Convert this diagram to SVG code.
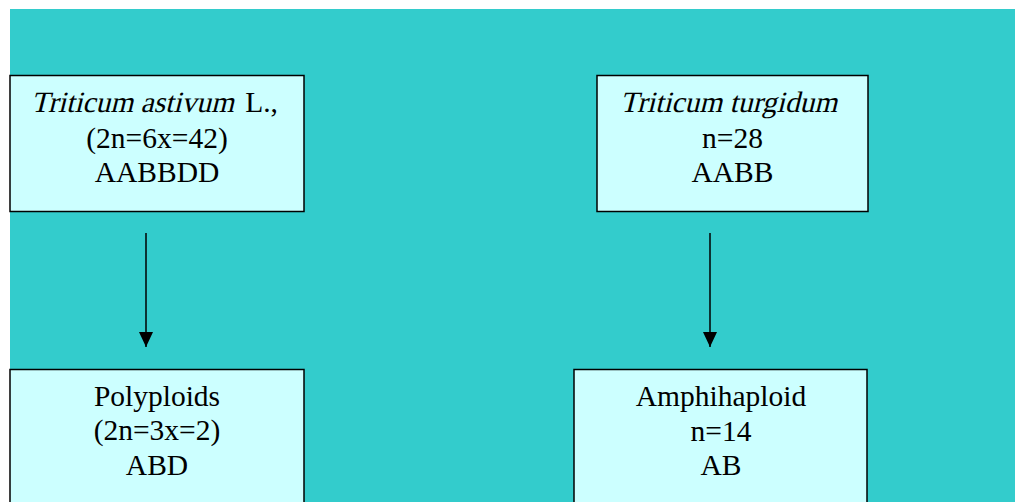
<svg xmlns="http://www.w3.org/2000/svg" width="1015" height="502" viewBox="0 0 1015 502">
<style>
.box{fill:#CCFFFF;stroke:#000;stroke-width:1.5}
.t{font-family:"Liberation Serif","Times New Roman",serif;font-size:29.5px;fill:#000;text-anchor:middle}
.s{text-anchor:start}
.e{text-anchor:end}
.c{stroke:#000;stroke-width:1.5;fill:none}
</style>
<defs>
<marker id="ah" markerUnits="userSpaceOnUse" markerWidth="15" markerHeight="14" refX="15" refY="7" orient="auto" viewBox="0 0 15 14">
<path d="M0,0 L15,7 L0,14 Z" fill="#000"/>
</marker>
</defs>
<rect x="0" y="0" width="1015" height="502" fill="#fff"/>
<rect x="10" y="9" width="1005" height="493" fill="#33CCCC"/>
<g id="n1">
<rect class="box" x="10" y="75.5" width="294" height="136"/>
<text class="t s" transform="translate(31,112) skewX(-14)" x="0" y="0">Triticum astivum</text>
<text class="t e" x="278" y="112">L.,</text>
<text class="t" x="157" y="148">(2n=6x=42)</text>
<text class="t" x="157" y="182">AABBDD</text>
</g>
<g id="n2">
<rect class="box" x="597" y="75.5" width="271" height="136"/>
<text class="t s" transform="translate(620,112) skewX(-14)" x="0" y="0">Triticum turgidum</text>
<text class="t" x="732.5" y="148">n=28</text>
<text class="t" x="732.5" y="182">AABB</text>
</g>
<g id="n3">
<rect class="box" x="10" y="369.5" width="294" height="140"/>
<text class="t" x="157" y="406">Polyploids</text>
<text class="t" x="157" y="440">(2n=3x=2)</text>
<text class="t" x="157" y="475">ABD</text>
</g>
<g id="n4">
<rect class="box" x="574" y="369.5" width="293" height="140"/>
<text class="t" x="721" y="406">Amphihaploid</text>
<text class="t" x="721" y="441">n=14</text>
<text class="t" x="721" y="475">AB</text>
</g>
<g id="connectors">
<line class="c" x1="146" y1="233" x2="146" y2="347" marker-end="url(#ah)"/>
<line class="c" x1="710" y1="233" x2="710" y2="347" marker-end="url(#ah)"/>
</g>
</svg>
